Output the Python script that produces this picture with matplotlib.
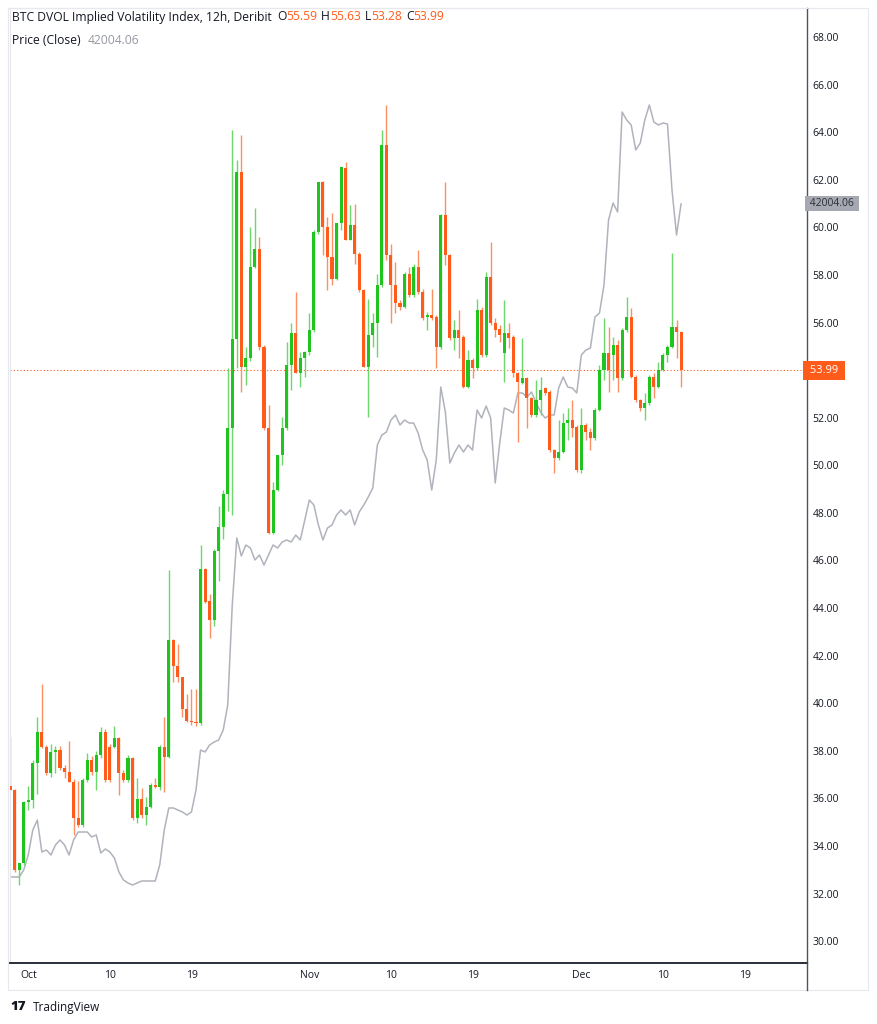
import matplotlib
matplotlib.use('Agg')
import matplotlib.pyplot as plt
import matplotlib.dates as mdates
from matplotlib.patches import Rectangle
from matplotlib.lines import Line2D
import numpy as np
import pandas as pd

plt.rcParams['font.family'] = ['Open Sans', 'DejaVu Sans']

# BTC DVOL 12h candles, Sep 29 -> Dec 12 2023
opens = [36.5, 36.35, 33.0, 33.27, 35.86, 35.95, 37.5, 38.8, 38.17, 37.05,
         37.95, 38.05, 37.26, 37.12, 36.7, 35.16, 34.88, 36.77, 37.61, 37.12,
         37.82, 38.8, 38.17, 38.17, 38.52, 37.05, 36.77, 37.68, 35.16, 35.98,
         35.3, 35.65, 36.56, 36.49, 38.17, 37.75, 42.66, 41.58, 41.08, 39.75,
         39.26, 39.2, 39.15, 45.65, 44.3, 43.5, 46.4, 47.4, 48.8, 51.55,
         55.3, 62.34, 54.14, 54.49, 58.34, 59.1, 54.98, 51.55, 47.14, 48.96,
         50.43, 51.55, 54.21, 55.54, 53.86, 54.49, 54.77, 55.68, 59.8, 61.92,
         60.03, 58.76, 57.85, 60.17, 62.48, 59.47, 60.1, 58.9, 57.36, 54.14,
         55.47, 55.96, 57.57, 63.46, 58.83, 57.57, 56.8, 56.66, 58.06, 57.15,
         58.34, 57.29, 56.24, 56.31, 56.24, 54.98, 60.52, 58.83, 55.33, 55.68,
         55.4, 53.3, 54.42, 54.07, 56.52, 54.63, 57.92, 55.96, 55.71, 54.7,
         55.54, 55.4, 53.86, 53.44, 53.65, 52.81, 52.11, 52.74, 53.23, 53.09,
         50.64, 50.29, 50.57, 51.76, 51.9, 51.62, 49.8, 51.69, 51.41, 51.13,
         52.32, 54.0, 54.7, 54.63, 55.05, 53.65, 55.68, 56.24, 53.72, 52.74,
         52.39, 52.6, 53.72, 53.3, 54.0, 54.63, 54.98, 55.83, 55.59]
highs = [38.6, 36.4, 33.3, 35.9, 36.5, 37.6, 39.4, 40.8, 38.25, 38.3,
         38.2, 38.2, 37.4, 38.4, 36.8, 36.75, 36.85, 37.9, 37.8, 38.0,
         39.0, 38.9, 38.3, 39.04, 38.59, 37.19, 37.82, 37.75, 36.84, 36.42,
         36.07, 36.63, 36.84, 38.24, 39.43, 45.6, 42.7, 42.5, 41.1, 40.4,
         40.6, 40.6, 46.65, 45.7, 44.6, 46.5, 48.3, 48.97, 54.1, 64.1,
         62.85, 63.88, 54.98, 60.03, 60.8, 59.6, 55.05, 52.53, 49.3, 50.45,
         52.04, 55.2, 55.96, 57.29, 54.77, 54.8, 56.38, 59.9, 61.92, 61.95,
         60.45, 60.6, 60.2, 62.55, 62.76, 60.94, 61.0, 58.95, 57.4, 57.0,
         56.38, 58.06, 64.09, 65.14, 59.32, 58.55, 56.94, 58.13, 58.34, 58.48,
         59.04, 57.43, 56.45, 57.43, 56.31, 60.55, 61.92, 58.9, 56.1, 56.52,
         55.47, 54.84, 54.49, 57.0, 56.66, 58.13, 59.39, 56.17, 55.89, 56.94,
         55.96, 55.47, 53.9, 55.33, 53.7, 52.88, 53.58, 53.72, 53.3, 53.16,
         50.7, 51.9, 52.18, 52.39, 52.74, 51.69, 52.39, 51.76, 51.55, 52.39,
         54.21, 56.17, 55.82, 55.4, 55.26, 55.75, 57.08, 56.59, 53.8, 52.8,
         53.02, 53.8, 53.86, 54.35, 54.7, 55.05, 58.91, 56.1, 55.63]
lows = [36.3, 32.9, 32.35, 33.2, 35.5, 35.6, 36.2, 38.1, 37.0, 36.9,
        37.05, 37.2, 36.85, 36.7, 34.45, 34.8, 34.8, 36.7, 37.0, 36.35,
        37.7, 36.7, 36.7, 38.1, 36.14, 36.7, 36.7, 35.09, 34.95, 35.16,
        34.88, 35.58, 36.42, 36.35, 36.28, 37.7, 40.9, 40.9, 39.42, 39.2,
        39.1, 39.05, 39.1, 44.2, 42.75, 43.25, 45.15, 46.9, 48.06, 47.9,
        54.07, 53.09, 53.37, 54.4, 58.3, 54.84, 51.5, 47.1, 47.1, 48.9,
        50.0, 51.5, 53.16, 53.86, 53.3, 53.72, 54.63, 55.6, 59.73, 58.83,
        57.36, 57.57, 57.8, 59.9, 59.47, 59.45, 58.48, 57.3, 54.14, 52.04,
        54.98, 54.56, 57.5, 58.62, 55.96, 56.38, 56.52, 56.6, 57.08, 57.08,
        57.22, 56.1, 55.68, 56.1, 54.07, 54.9, 58.41, 55.26, 54.84, 54.49,
        53.23, 53.23, 53.65, 54.0, 54.56, 54.56, 55.89, 55.4, 55.19, 53.51,
        54.91, 53.72, 50.99, 53.4, 51.55, 52.04, 52.04, 52.11, 52.95, 50.57,
        49.66, 50.22, 50.5, 51.06, 51.2, 49.73, 49.66, 51.06, 50.64, 51.06,
        52.3, 53.58, 53.09, 53.58, 53.09, 53.6, 55.6, 53.65, 52.66, 52.3,
        51.9, 52.55, 52.81, 53.23, 53.95, 54.35, 54.91, 54.5, 53.28]
closes = [36.35, 33.0, 33.27, 35.86, 35.95, 37.5, 38.8, 38.17, 37.05, 37.95,
          38.05, 37.26, 37.12, 36.7, 35.16, 34.88, 36.77, 37.61, 37.12, 37.82,
          38.8, 36.77, 36.77, 38.52, 37.05, 36.77, 37.68, 35.16, 35.98, 35.3,
          35.65, 36.56, 36.49, 38.17, 37.75, 42.66, 41.58, 41.08, 39.75, 39.26,
          39.2, 39.15, 45.65, 44.24, 43.5, 46.4, 47.4, 48.8, 51.55, 55.3,
          62.34, 54.14, 54.49, 58.34, 59.1, 54.98, 51.55, 47.14, 48.96, 50.43,
          51.55, 54.21, 55.54, 53.86, 54.49, 54.77, 55.68, 59.8, 61.92, 60.03,
          58.76, 57.85, 60.17, 62.55, 59.47, 60.1, 58.9, 57.36, 54.14, 55.47,
          55.96, 57.57, 63.46, 58.83, 57.57, 56.8, 56.66, 58.06, 57.15, 58.34,
          57.29, 56.17, 56.31, 56.17, 54.98, 60.52, 58.83, 55.33, 55.68, 55.33,
          53.3, 54.42, 54.07, 56.52, 54.63, 57.92, 55.96, 55.68, 55.47, 55.54,
          55.33, 53.86, 53.51, 53.65, 52.81, 52.11, 52.74, 53.16, 53.02, 50.64,
          50.29, 50.57, 51.76, 51.9, 51.55, 49.8, 51.69, 51.41, 51.13, 52.32,
          54.0, 54.7, 54.0, 55.05, 53.65, 55.68, 56.24, 53.72, 52.74, 52.39,
          52.6, 53.72, 53.3, 54.0, 54.63, 54.98, 55.83, 55.62, 53.99]

# BTC close (overlay, own scale)
btc = [26835, 26835, 26835, 26992, 27330, 27894, 28119, 27398, 27443, 27330,
       27556, 27669, 27556, 27330, 27669, 27849, 27849, 27849, 27736, 27781,
       27376, 27466, 27398, 27263, 26947, 26767, 26699, 26654, 26699, 26744,
       26744, 26744, 26744, 27105, 27894, 28390, 28390, 28345, 28300, 28232,
       28300, 28796, 29697, 29652, 29810, 29877, 29923, 30148, 30711, 32965,
       34476, 34070, 34318, 34250, 33980, 34092, 33867, 34092, 34318, 34250,
       34385, 34431, 34385, 34543, 34431, 34881, 35332, 35219, 34769, 34431,
       34701, 34769, 34994, 35107, 34994, 35107, 34769, 35062, 35219, 35400,
       35603, 36572, 36797, 36865, 37135, 37248, 37023, 37135, 37068, 37068,
       36842, 36459, 36234, 35558, 36234, 37879, 37316, 36166, 36392, 36572,
       36414, 36572, 36459, 37361, 37180, 37451, 37180, 35715, 36617, 37406,
       37361, 37293, 37744, 37744, 37654, 37766, 37541, 37316, 37180, 37248,
       37248, 37857, 38105, 37879, 37857, 37744, 38600, 38713, 38758, 39457,
       39547, 40178, 41643, 42027, 41824, 44078, 43897, 43785, 43221, 43379,
       43897, 44235, 43852, 43785, 43830, 43807, 42320, 41305, 42004.06]

yticks = list(range(30, 69, 2))
xtick_dates = ['2023-10-01', '2023-10-10', '2023-10-19', '2023-11-01', '2023-11-10',
               '2023-11-19', '2023-12-01', '2023-12-10', '2023-12-19']
xtick_labels = ['Oct', '10', '19', 'Nov', '10', '19', 'Dec', '10', '19']

GREEN = '#1fc41f'
ORANGE = '#ff5b1a'
DARK = '#131722'
GREY_LINE = '#b0b3bb'

W, H = 877, 1024
fig = plt.figure(figsize=(W / 100, H / 100), dpi=100)
fig.patch.set_facecolor('white')


def fx(px):
    return px / W


def fy(py):
    return 1 - py / H


ax = fig.add_axes([fx(10), fy(963), fx(807) - fx(10), fy(8) - fy(963)])
ax2 = ax.twinx()
ax.set_zorder(ax2.get_zorder() + 1)
ax.patch.set_visible(False)

times = pd.date_range('2023-09-29', periods=len(opens), freq='12h')
x = mdates.date2num(times)
o = np.array(opens)
c = np.array(closes)
up = c >= o
body_col = np.where(up, GREEN, ORANGE)
wick_col = np.where(up, '#6cd86c', '#fb9163')
bottoms = np.minimum(o, c)
heights = np.maximum(np.abs(c - o), 0.06)

ax.vlines(x, lows, highs, colors=wick_col, linewidth=1.0, zorder=2)
ax.bar(x, heights, bottom=bottoms, width=0.34, color=body_col, linewidth=0, zorder=3)

ax2.plot(x, btc, color=GREY_LINE, lw=1.1)
ax2.set_ylim(24896, 46422)
ax2.axis('off')

# last-value line
ax.axhline(closes[-1], color=ORANGE, lw=0.8, ls=(0, (1, 2)), zorder=1)

ax.set_ylim(29.08, 69.22)
ax.set_xlim(mdates.date2num(pd.Timestamp('2023-09-28 23:40')),
            mdates.date2num(pd.Timestamp('2023-12-25 21:20')))

ax.yaxis.tick_right()
ax.set_yticks(yticks)
# 54.00 sits under the last-value tag, as on the reference
ax.set_yticklabels(['' if v == 54 else f'{v:.2f}' for v in yticks])
ax.tick_params(axis='y', length=0, pad=4, labelsize=7.5, labelcolor=DARK)
ax.set_xticks(mdates.date2num(pd.to_datetime(xtick_dates)))
ax.set_xticklabels(xtick_labels)
ax.tick_params(axis='x', length=0, pad=5, labelsize=7.5, labelcolor=DARK)

for s in ['top', 'left']:
    ax.spines[s].set_color('#e6e8ee')
    ax.spines[s].set_linewidth(0.8)
ax.spines['right'].set_color('#50535e')
ax.spines['right'].set_linewidth(1.0)
ax.spines['bottom'].set_color('#2a2e39')
ax.spines['bottom'].set_linewidth(1.4)

# price tags on the scale
ax.text(1.0, closes[-1], ' 53.99 ', transform=ax.get_yaxis_transform(),
        ha='left', va='center', fontsize=8, color='white',
        bbox=dict(boxstyle='square,pad=0.35', fc=ORANGE, ec='none'), zorder=5)
ax.text(1.0, 61.0, ' 42004.06 ', transform=ax.get_yaxis_transform(),
        ha='left', va='center', fontsize=7.5, color='#2a2e39',
        bbox=dict(boxstyle='square,pad=0.22', fc='#a6a9b1', ec='none'), zorder=5)

# outer frame and scale separators
fig.add_artist(Rectangle((fx(8), fy(990)), fx(868) - fx(8), fy(8) - fy(990),
                         transform=fig.transFigure, fill=False, ec='#e6e8ee', lw=0.8))
fig.add_artist(Line2D([fx(807), fx(807)], [fy(963), fy(990)], transform=fig.transFigure,
                      color='#50535e', lw=1.0))

# legend lines at top
renderer = fig.canvas.get_renderer()


def seq_texts(parts, x0, y0, size):
    xcur = x0
    for s, col, gap in parts:
        t = fig.text(fx(xcur), fy(y0), s, color=col, fontsize=size, va='center', ha='left')
        bb = t.get_window_extent(renderer)
        xcur += bb.width + gap


seq_texts([('BTC DVOL Implied Volatility Index, 12h, Deribit', DARK, 5),
           ('O', DARK, 0), ('55.59', ORANGE, 4),
           ('H', DARK, 0), ('55.63', ORANGE, 4),
           ('L', DARK, 0), ('53.28', ORANGE, 4),
           ('C', DARK, 0), ('53.99', ORANGE, 0)], 12, 17, 8.7)
seq_texts([('Price (Close)', DARK, 7), ('42004.06', '#9598a1', 0)], 12, 40, 8.7)

# footer
fig.text(fx(10), fy(1007), '17', fontsize=9.5, fontweight='heavy', color=DARK, va='center')
fig.text(fx(33), fy(1007), 'TradingView', fontsize=8.5, color=DARK, va='center')

fig.savefig('out.png', dpi=100, facecolor='white')
